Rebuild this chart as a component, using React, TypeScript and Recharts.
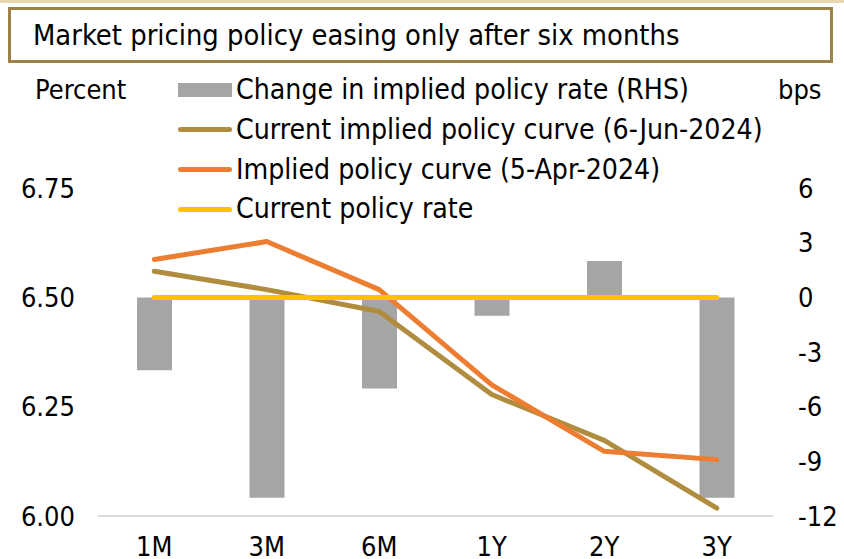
import React from "react";
import { ComposedChart, Bar, Line, XAxis, YAxis } from "recharts";

const categories = ["1M", "3M", "6M", "1Y", "2Y", "3Y"];
const changeBps = [-4, -11, -5, -1, 2, -11];
const currentCurve = [6.56, 6.518, 6.468, 6.278, 6.173, 6.018];
const aprilCurve = [6.587, 6.628, 6.518, 6.3, 6.148, 6.129];
const policyRate = [6.5, 6.5, 6.5, 6.5, 6.5, 6.5];
const leftTicks = [6, 6.25, 6.5, 6.75];
const rightTicks = [-12, -9, -6, -3, 0, 3, 6];

const title = "Market pricing policy easing only after six months";
const legendItems = [
  { label: "Change in implied policy rate (RHS)", color: "#A5A5A5", type: "bar" },
  { label: "Current implied policy curve (6-Jun-2024)", color: "#B08C3E", type: "line" },
  { label: "Implied policy curve (5-Apr-2024)", color: "#ED7D31", type: "line" },
  { label: "Current policy rate", color: "#FFC000", type: "line" },
];

const data = categories.map((c, i) => ({
  cat: c,
  change: changeBps[i],
  current: currentCurve[i],
  april: aprilCurve[i],
  policy: policyRate[i],
}));

const FONT = "'DejaVu Sans Condensed', 'DejaVu Sans', sans-serif";
const tickStyle = { fill: "#000", fontSize: 27, fontFamily: FONT };

export default function App() {
  return (
    <div style={{ position: "absolute", left: 0, top: 0, width: 844, height: 559, background: "#fff", overflow: "hidden", fontFamily: FONT }}>
      <div style={{ position: "absolute", left: 0, top: 0, width: 844, height: 3, background: "#E6D7B0" }} />
      <div
        style={{
          position: "absolute",
          left: 8,
          top: 7,
          width: 819,
          height: 50,
          border: "3px solid #9C8249",
          boxSizing: "content-box",
          display: "flex",
          alignItems: "center",
        }}
      >
        <span style={{ marginLeft: 22, fontSize: 28.8, lineHeight: "34px", color: "#000", whiteSpace: "nowrap" }}>{title}</span>
      </div>
      <ComposedChart
        width={844}
        height={559}
        data={data}
        margin={{ top: 79, right: 0, bottom: 13, left: 0 }}
        style={{ position: "absolute", left: 0, top: 0 }}
      >
        <XAxis
          dataKey="cat"
          height={30}
          axisLine={{ stroke: "#D9D9D9", strokeWidth: 2 }}
          tickLine={false}
          tickSize={0}
          tickMargin={21}
          tick={tickStyle}
          interval={0}
        />
        <YAxis
          yAxisId="L"
          orientation="left"
          width={98}
          domain={[6, 7]}
          ticks={leftTicks}
          tickFormatter={(v: number) => v.toFixed(2)}
          axisLine={false}
          tickLine={false}
          tickSize={0}
          tickMargin={23}
          tick={tickStyle}
          allowDataOverflow
        />
        <YAxis
          yAxisId="R"
          orientation="right"
          width={71}
          domain={[-12, 12]}
          ticks={rightTicks}
          axisLine={false}
          tickLine={false}
          tickSize={0}
          tickMargin={25}
          tick={tickStyle}
          allowDataOverflow
        />
        <Bar yAxisId="R" dataKey="change" fill="#A5A5A5" barSize={35} isAnimationActive={false} />
        <Line yAxisId="L" dataKey="current" stroke="#B08C3E" strokeWidth={5} dot={false} strokeLinecap="round" strokeLinejoin="round" isAnimationActive={false} />
        <Line yAxisId="L" dataKey="april" stroke="#ED7D31" strokeWidth={5} dot={false} strokeLinecap="round" strokeLinejoin="round" isAnimationActive={false} />
        <Line yAxisId="L" dataKey="policy" stroke="#FFC000" strokeWidth={5} dot={false} strokeLinecap="round" strokeLinejoin="round" isAnimationActive={false} />
      </ComposedChart>
      <div style={{ position: "absolute", left: 35, top: 74, fontSize: 27, lineHeight: "32px", color: "#000" }}>Percent</div>
      <div style={{ position: "absolute", left: 778, top: 74, fontSize: 27, lineHeight: "32px", color: "#000" }}>bps</div>
      {legendItems.map((it, i) => (
        <div key={it.label} style={{ position: "absolute", left: 178, top: 74 + i * 39.8, height: 32, display: "flex", alignItems: "center" }}>
          {it.type === "bar" ? (
            <div style={{ width: 54, height: 14, background: it.color }} />
          ) : (
            <div style={{ width: 54, height: 5, background: it.color, borderRadius: 3 }} />
          )}
          <span style={{ marginLeft: 4, fontSize: 28.2, lineHeight: "32px", color: "#000", whiteSpace: "nowrap" }}>{it.label}</span>
        </div>
      ))}
    </div>
  );
}
